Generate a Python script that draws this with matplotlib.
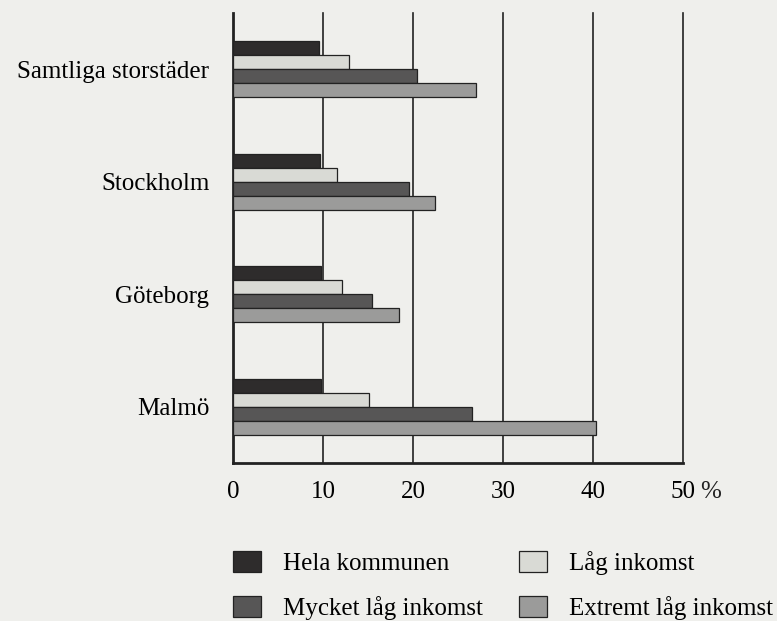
import numpy as np
import matplotlib
matplotlib.use("Agg")
import matplotlib.pyplot as plt
from matplotlib.patches import Patch

plt.rcParams['font.family'] = ['Liberation Serif', 'DejaVu Serif']
plt.rcParams['font.size'] = 18

# data (percent)
cities = ['Samtliga storstäder', 'Stockholm', 'Göteborg', 'Malmö']
series = ['Hela kommunen', 'Låg inkomst', 'Mycket låg inkomst', 'Extremt låg inkomst']
hela = [9.6, 9.7, 9.8, 9.8]
lag = [12.9, 11.6, 12.1, 15.1]
mycket = [20.5, 19.6, 15.5, 26.6]
extremt = [27.0, 22.5, 18.5, 40.3]
ticks = [0, 10, 20, 30, 40, 50]

colors = ['#2e2c2c', '#d9dad5', '#575656', '#9b9b9a']
bg = '#efefec'

fig = plt.figure(figsize=(7.77, 6.21), dpi=100, facecolor=bg)
ax = fig.add_axes([233/777, 1 - 463/621, 450/777, 450/621])
ax.set_facecolor(bg)

y = np.arange(len(cities))
h = 0.125
offs = [-1.5*h, -0.5*h, 0.5*h, 1.5*h]
for vals, off, c in zip([hela, lag, mycket, extremt], offs, colors):
    ax.barh(y + off, vals, height=h, color=c, edgecolor='#222222', linewidth=0.9, zorder=3)

ax.set_xlim(0, 50)
ax.set_ylim(3.5, -0.5)
for t in ticks[1:]:
    ax.axvline(t, color='#222222', linewidth=1.2, zorder=1, clip_on=False)

ax.set_xticks(ticks)
ax.set_xticklabels([str(t) for t in ticks])
ax.set_yticks(y)
ax.set_yticklabels(cities)
ax.tick_params(axis='x', length=0, pad=13)
ax.tick_params(axis='y', length=0, pad=17)
for s in ['top', 'right']:
    ax.spines[s].set_visible(False)
for s in ['left', 'bottom']:
    ax.spines[s].set_linewidth(2)
    ax.spines[s].set_color('#222222')

# percent sign after the last tick label
ax.annotate('%', xy=(50, 0), xycoords=ax.get_xaxis_transform(),
            xytext=(12, -13), textcoords='offset points', ha='left', va='top',
            fontsize=18, color='#222222')

# legend filled row by row: Hela, Låg / Mycket, Extremt
order = [0, 2, 1, 3]
handles = [Patch(facecolor=colors[i], edgecolor='#222222', linewidth=0.9) for i in order]
labels = [series[i] for i in order]
fig.legend(handles, labels, loc='upper left', bbox_to_anchor=(233/777, 1 - 551/621),
           ncol=2, frameon=False, handlelength=1.1, handleheight=0.9,
           handletextpad=0.9, columnspacing=1.45, labelspacing=0.85, borderpad=0,
           borderaxespad=0)

plt.savefig('out.png', dpi=100, facecolor=bg)
